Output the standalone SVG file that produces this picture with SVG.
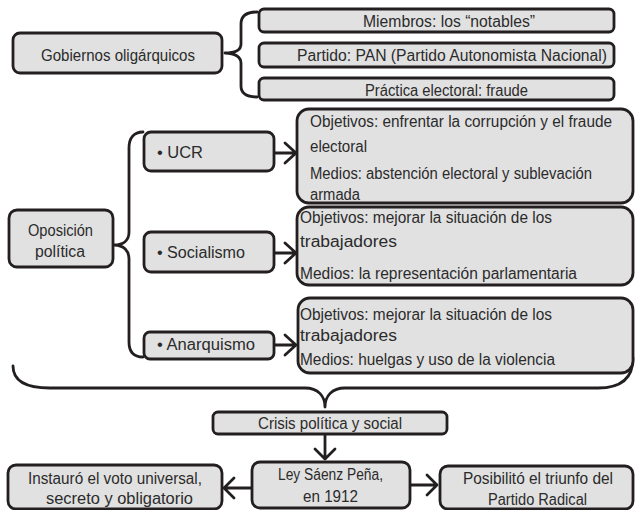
<svg xmlns="http://www.w3.org/2000/svg" width="635" height="510" viewBox="0 0 635 510">
<style>
.box{fill:#e1e1e1;stroke:#231f20;stroke-width:2.8}
.t{font-family:"Liberation Sans",Arial,sans-serif;font-size:16px;fill:#2b2b2b}
.c{fill:none;stroke:#231f20;stroke-width:2.8;stroke-linecap:round;stroke-linejoin:round}
</style>
<rect width="635" height="510" fill="#ffffff"/>
<g id="connectors">
<path class="c" d="M257,12 C246,12 241,16 241,24 L241,44 C241,50 235,53 225,53 C235,53 241,57 241,63 L241,86 C241,93 246,97 257,97"/>
<path class="c" d="M143,132 C134,132 129,138 129,148 L129,232 C129,240 124,245 114,245 C124,245 129,251 129,259 L129,342 C129,352 134,357 143,357"/>
<path class="c" d="M274,153 H296 M285,143 L296,153 L285,163"/>
<path class="c" d="M274,253 H296 M285,243 L296,253 L285,263"/>
<path class="c" d="M274,345 H296 M285,335 L296,345 L285,355"/>
<path class="c" d="M13,366 C13,380 24,388 50,388 L305,388 C318,388 325,396 325,407 C325,396 332,388 345,388 L598,388 C622,388 633,378 633,358"/>
<path class="c" d="M325,434 V459 M315,449 L325,459 L335,449"/>
<path class="c" d="M252,488 H224 M234,478 L224,488 L234,498"/>
<path class="c" d="M410,485 H437 M427,475 L437,485 L427,495"/>
</g>
<g id="gobiernos"><rect class="box" x="13" y="33" width="209" height="40" rx="7"/><text class="t" x="41" y="61" textLength="154" lengthAdjust="spacingAndGlyphs">Gobiernos oligárquicos</text></g>
<g id="miembros"><rect class="box" x="259" y="9" width="355" height="23" rx="5"/><text class="t" x="363" y="27" textLength="172" lengthAdjust="spacingAndGlyphs">Miembros: los “notables”</text></g>
<g id="partido"><rect class="box" x="259" y="43" width="355" height="24" rx="5"/><text class="t" x="297" y="61" textLength="310" lengthAdjust="spacingAndGlyphs">Partido: PAN (Partido Autonomista Nacional)</text></g>
<g id="practica"><rect class="box" x="259" y="78" width="355" height="22" rx="5"/><text class="t" x="365" y="96" textLength="163" lengthAdjust="spacingAndGlyphs">Práctica electoral: fraude</text></g>
<g id="oposicion"><rect class="box" x="9" y="210" width="104" height="57" rx="8"/><text class="t" x="28" y="236" textLength="65" lengthAdjust="spacingAndGlyphs">Oposición</text><text class="t" x="35" y="257" textLength="50" lengthAdjust="spacingAndGlyphs">política</text></g>
<g id="ucr"><rect class="box" x="144" y="132" width="130" height="39" rx="7"/><text class="t" x="157" y="158" textLength="46" lengthAdjust="spacingAndGlyphs">• UCR</text></g>
<g id="socialismo"><rect class="box" x="144" y="232" width="130" height="40" rx="7"/><text class="t" x="157" y="258" textLength="88" lengthAdjust="spacingAndGlyphs">• Socialismo</text></g>
<g id="anarquismo"><rect class="box" x="144" y="332" width="130" height="27" rx="6"/><text class="t" x="157" y="350" textLength="98" lengthAdjust="spacingAndGlyphs">• Anarquismo</text></g>
<g id="ucr-detalle"><rect class="box" x="297" y="109" width="336" height="94" rx="12"/>
<text class="t" x="310" y="127" textLength="302" lengthAdjust="spacingAndGlyphs">Objetivos: enfrentar la corrupción y el fraude</text>
<text class="t" x="310" y="152" textLength="57" lengthAdjust="spacingAndGlyphs">electoral</text>
<text class="t" x="310" y="179" textLength="282" lengthAdjust="spacingAndGlyphs">Medios: abstención electoral y sublevación</text>
<text class="t" x="310" y="200" textLength="50" lengthAdjust="spacingAndGlyphs">armada</text></g>
<g id="socialismo-detalle"><rect class="box" x="297" y="207" width="336" height="78" rx="12"/>
<text class="t" x="300" y="223" textLength="252" lengthAdjust="spacingAndGlyphs">Objetivos: mejorar la situación de los</text>
<text class="t" x="300" y="247" textLength="97" lengthAdjust="spacingAndGlyphs">trabajadores</text>
<text class="t" x="300" y="279" textLength="277" lengthAdjust="spacingAndGlyphs">Medios: la representación parlamentaria</text></g>
<g id="anarquismo-detalle"><rect class="box" x="298" y="298" width="335" height="75" rx="12"/>
<text class="t" x="300" y="320" textLength="252" lengthAdjust="spacingAndGlyphs">Objetivos: mejorar la situación de los</text>
<text class="t" x="300" y="341" textLength="97" lengthAdjust="spacingAndGlyphs">trabajadores</text>
<text class="t" x="300" y="365" textLength="255" lengthAdjust="spacingAndGlyphs">Medios: huelgas y uso de la violencia</text></g>
<g id="crisis"><rect class="box" x="213" y="412" width="234" height="22" rx="5"/><text class="t" x="258" y="429" textLength="144" lengthAdjust="spacingAndGlyphs">Crisis política y social</text></g>
<g id="ley"><rect class="box" x="252" y="462" width="158" height="46" rx="8"/><text class="t" x="278" y="480" textLength="105" lengthAdjust="spacingAndGlyphs">Ley Sáenz Peña,</text><text class="t" x="303" y="502" textLength="55" lengthAdjust="spacingAndGlyphs">en 1912</text></g>
<g id="instauro"><rect class="box" x="8" y="465" width="214" height="44" rx="8"/><text class="t" x="28" y="484" textLength="174" lengthAdjust="spacingAndGlyphs">Instauró el voto universal,</text><text class="t" x="46" y="504" textLength="147" lengthAdjust="spacingAndGlyphs">secreto y obligatorio</text></g>
<g id="posibilito"><rect class="box" x="440" y="466" width="193" height="43" rx="8"/><text class="t" x="463" y="484" textLength="150" lengthAdjust="spacingAndGlyphs">Posibilitó el triunfo del</text><text class="t" x="488" y="505" textLength="99" lengthAdjust="spacingAndGlyphs">Partido Radical</text></g>
</svg>
